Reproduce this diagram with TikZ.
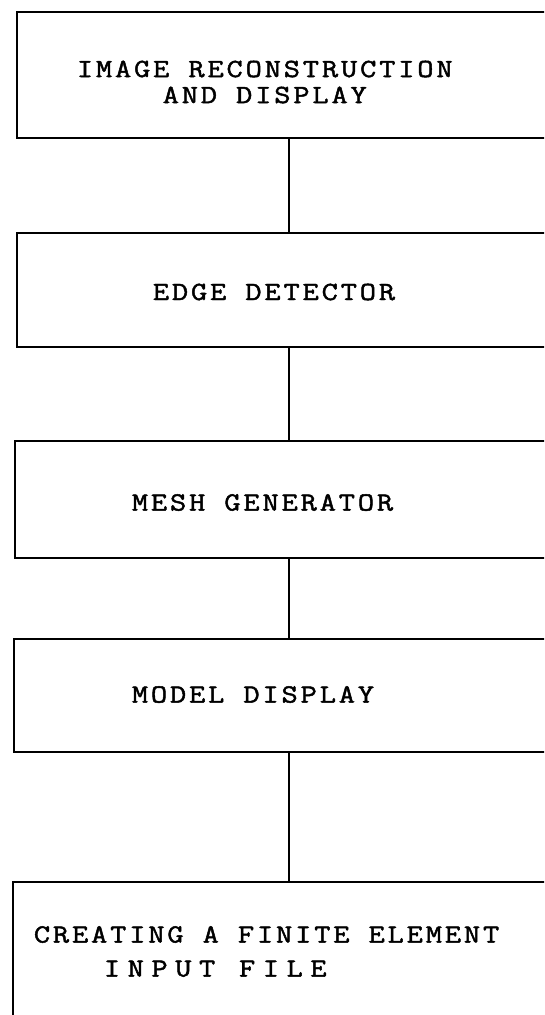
\documentclass[tikz,border=0pt]{standalone}
\usepackage{fontspec}
\newfontfamily\typefont{Latin Modern Mono}[FakeStretch=1.2,LetterSpace=11,FakeBold=1.8]
\usetikzlibrary{positioning}
\tikzset{every node/.append style={font=\typefont\fontsize{26.2}{26}\selectfont}}

\begin{document}
\begin{tikzpicture}[x=1pt, y=-1pt, line width=1.8pt,
    box/.style={draw, minimum width=548pt, inner sep=0pt},
    lbl/.style={anchor=west, inner sep=0pt}]
    \clip (0,0) rectangle (544,1015);
    \node[box, minimum width=544pt, minimum height=126pt] (recon) at (289,75) {};
    \node[box, minimum width=544pt, minimum height=114pt] (edge) at (289,290) {};
    \node[box, minimum height=117pt] (mesh) at (289,499.5) {};
    \node[box, minimum width=550pt, minimum height=113pt] (model) at (289,695.5) {};
    \node[box, minimum width=552pt, minimum height=200pt] (fem) at (289,982) {};
    \node[lbl, align=center] (recon-t) at (76,82) {IMAGE RECONSTRUCTION\\AND DISPLAY};
    \node[lbl] (edge-t) at (152,292) {EDGE DETECTOR};
    \node[lbl] (mesh-t) at (131,502.5) {MESH GENERATOR};
    \node[lbl] (model-t) at (131,694.5) {MODEL DISPLAY};
    \node[lbl, align=left] (fem-t) at (33,951.5) {CREATING A FINITE ELEMENT\\[8pt]
        \hspace*{70pt}{\addfontfeature{LetterSpace=29}INPUT FILE}};
    \draw (recon) -- (edge);
    \draw (edge) -- (mesh);
    \draw (mesh) -- (model);
    \draw (model) -- (fem);
\end{tikzpicture}
\end{document}
